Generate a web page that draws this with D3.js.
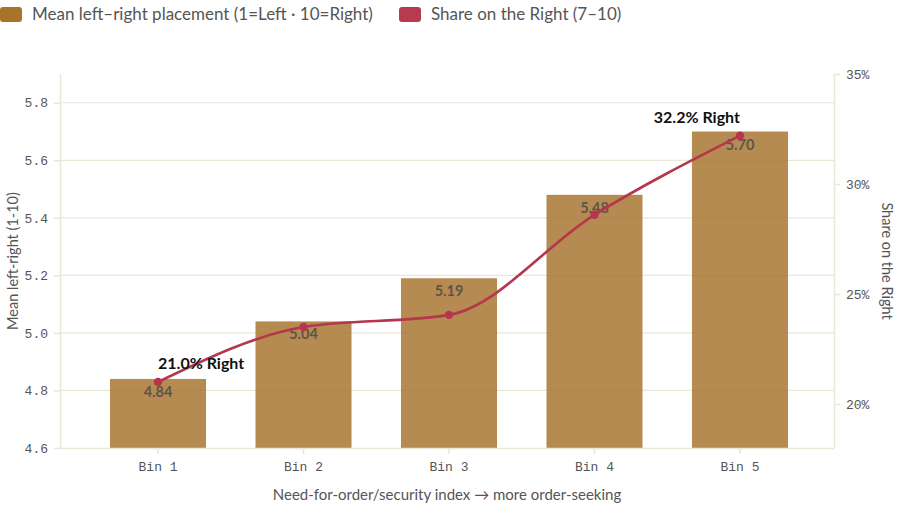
<!DOCTYPE html>
<html><head><meta charset="utf-8">
<script src="https://cdn.jsdelivr.net/npm/d3@7"></script>
<style>
body{margin:0;background:#fff;}
svg{display:block;}
.sans{font-family:Lato,"Noto Sans",sans-serif;}
.mono{font-family:"Courier New","Liberation Mono",monospace;}
</style></head>
<body><svg id="c" width="900" height="528"></svg>
<script>
const categories = ["Bin 1","Bin 2","Bin 3","Bin 4","Bin 5"];
const meanPlacement = [4.84, 5.04, 5.19, 5.48, 5.70];
const shareRight = [21.0, 23.5, 24.05, 28.6, 32.2];
const leftTicks = [4.6, 4.8, 5.0, 5.2, 5.4, 5.6, 5.8];
const rightTicks = [20, 25, 30, 35];
const legendLabels = ["Mean left\u2013right placement (1=Left \u00b7 10=Right)", "Share on the Right (7\u201310)"];

const svg = d3.select("#c");
const L = 60, R = 834, T = 74, B = 448;
const barColor = "#a6722b", lineColor = "#b5364d", gridColor = "#e9e7d8", textColor = "#555";

const x = d3.scaleBand().domain(categories).range([L + 2, R + 2]).paddingInner(0.34).paddingOuter(0.33);
const yL = d3.scaleLinear().domain([4.6, 5.9]).range([B, T]);
const yR = d3.scaleLinear().domain([18, 35]).range([B, T]);

// grid
svg.append("g").selectAll("line").data(leftTicks.slice(1)).join("line")
  .attr("x1", L).attr("x2", R).attr("y1", d => yL(d)).attr("y2", d => yL(d))
  .attr("stroke", gridColor).attr("stroke-width", 1.2);

// bars
svg.append("g").selectAll("rect").data(meanPlacement).join("rect")
  .attr("x", (d,i) => x(categories[i])).attr("width", x.bandwidth())
  .attr("y", d => yL(d)).attr("height", d => B - yL(d))
  .attr("fill", barColor).attr("fill-opacity", 0.82);

// axes
const axL = svg.append("g").attr("transform", `translate(${L},0)`)
  .call(d3.axisLeft(yL).tickValues(leftTicks).tickFormat(d3.format(".1f")).tickSizeOuter(0).tickPadding(6));
const axR = svg.append("g").attr("transform", `translate(${R},0)`)
  .call(d3.axisRight(yR).tickValues(rightTicks).tickFormat(d => d + "%").tickSizeOuter(0).tickPadding(6));
const axB = svg.append("g").attr("transform", `translate(0,${B})`)
  .call(d3.axisBottom(x).tickSizeOuter(0).tickPadding(8));
[axL, axR, axB].forEach(a => {
  a.selectAll("path,line").attr("stroke", gridColor).attr("stroke-width", 1.5);
  a.selectAll("text").attr("class", "mono").attr("fill", textColor).style("font-size", "13px");
});
axB.select(".domain").attr("d", `M${L},0.5H${R}`);

// bar value labels
svg.append("g").selectAll("text").data(meanPlacement).join("text")
  .attr("class", "sans")
  .attr("x", (d,i) => x(categories[i]) + x.bandwidth()/2).attr("y", d => yL(d) + 18)
  .attr("text-anchor", "middle").attr("fill", "#4a4a4a").attr("fill-opacity", 0.85)
  .style("font-size", "14.5px").style("font-weight", "700").text(d => d.toFixed(2));

// line
const cx = (i) => x(categories[i]) + x.bandwidth()/2;
const line = d3.line().x((d,i) => cx(i)).y(d => yR(d)).curve(d3.curveMonotoneX);
svg.append("path").datum(shareRight).attr("d", line)
  .attr("fill", "none").attr("stroke", lineColor).attr("stroke-width", 2.6);
svg.append("g").selectAll("circle").data(shareRight).join("circle")
  .attr("cx", (d,i) => cx(i)).attr("cy", d => yR(d)).attr("r", 4.2).attr("fill", lineColor);

// annotations
const last = shareRight.length - 1;
svg.append("text").attr("class","sans").attr("x", cx(0)).attr("y", yR(shareRight[0]) - 13)
  .attr("text-anchor","start").attr("fill","#111").style("font-size","16px").style("font-weight","700")
  .text(shareRight[0].toFixed(1) + "% Right");
svg.append("text").attr("class","sans").attr("x", cx(last)).attr("y", yR(shareRight[last]) - 13)
  .attr("text-anchor","end").attr("fill","#111").style("font-size","16px").style("font-weight","700")
  .text(shareRight[last].toFixed(1) + "% Right");

// axis titles
svg.append("text").attr("class","sans").attr("transform", "translate(18,261) rotate(-90)")
  .attr("text-anchor","middle").attr("fill", textColor).style("font-size","14.5px").text("Mean left-right (1-10)");
svg.append("text").attr("class","sans").attr("transform", "translate(882,261) rotate(90)")
  .attr("text-anchor","middle").attr("fill", textColor).style("font-size","14.5px").text("Share on the Right");
svg.append("text").attr("class","sans").attr("x", 447).attr("y", 500)
  .attr("text-anchor","middle").attr("fill", textColor).style("font-size","15px")
  .text("Need-for-order/security index \u2192 more order-seeking");

// legend
const lg = svg.append("g");
const lx = [0, 399];
const lc = ["#a8742a", "#b83a4f"];
legendLabels.forEach((t,i) => {
  lg.append("rect").attr("x", lx[i]).attr("y", 7).attr("width", 22).attr("height", 15).attr("rx", 3).attr("fill", lc[i]);
  lg.append("text").attr("class","sans").attr("x", lx[i] + 32).attr("y", 20)
    .attr("fill", textColor).style("font-size","17px").text(t);
});
</script></body></html>
